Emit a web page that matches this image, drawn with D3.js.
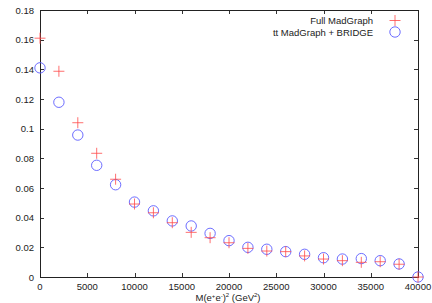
<!DOCTYPE html>
<html>
<head>
<meta charset="utf-8">
<script src="https://cdn.jsdelivr.net/npm/d3@7"></script>
<style>
  body { margin: 0; background: #fff; }
  svg text { font-family: "Liberation Sans", Arial, sans-serif; font-size: 9.5px; fill: #222; }
</style>
</head>
<body>
<svg id="chart" width="432" height="303"></svg>
<script>
const width = 432;
const height = 303;

// mass squared bins (GeV^2)
const massSq = [0, 2000, 4000, 6000, 8000, 10000, 12000, 14000, 16000, 18000, 20000,
  22000, 24000, 26000, 28000, 30000, 32000, 34000, 36000, 38000, 40000];
const fullMadGraph = [0.161, 0.1387, 0.104, 0.0834, 0.0659, 0.0492, 0.0433, 0.0366, 0.0301, 0.0265, 0.0231,
  0.0193, 0.0175, 0.0171, 0.0142, 0.0121, 0.011, 0.0099, 0.0103, 0.0086, 0];
const bridge = [0.141, 0.1178, 0.0957, 0.0753, 0.0622, 0.0505, 0.0446, 0.0378, 0.0344, 0.0294, 0.0245,
  0.020, 0.0187, 0.0171, 0.0153, 0.013, 0.0121, 0.0124, 0.011, 0.0088, 0];

const xTicks = [0, 5000, 10000, 15000, 20000, 25000, 30000, 35000, 40000];
const yTicks = [0, 0.02, 0.04, 0.06, 0.08, 0.1, 0.12, 0.14, 0.16, 0.18];
const yTickLabels = ["0", "0.02", "0.04", "0.06", "0.08", "0.1", "0.12", "0.14", "0.16", "0.18"];

const margin = { left: 40, right: 14, top: 10, bottom: 26 };

const svg = d3.select("#chart");

const x = d3.scaleLinear().domain([0, 40000]).range([margin.left, width - margin.right]);
const y = d3.scaleLinear().domain([0, 0.18]).range([height - margin.bottom, margin.top]);

const tickLen = 4;

// ticks on all four sides, pointing inward
const axes = svg.append("g").attr("stroke", "#333").attr("stroke-width", 1);
xTicks.forEach(t => {
  const px = Math.round(x(t)) + 0.5;
  axes.append("line").attr("x1", px).attr("x2", px)
    .attr("y1", y(0)).attr("y2", y(0) - tickLen);
  axes.append("line").attr("x1", px).attr("x2", px)
    .attr("y1", y(0.18)).attr("y2", y(0.18) + tickLen);
});
yTicks.forEach(t => {
  const py = Math.round(y(t)) + 0.5;
  axes.append("line").attr("x1", x(0)).attr("x2", x(0) + tickLen)
    .attr("y1", py).attr("y2", py);
  axes.append("line").attr("x1", x(40000)).attr("x2", x(40000) - tickLen)
    .attr("y1", py).attr("y2", py);
});

svg.append("rect")
  .attr("x", Math.round(x(0)) + 0.5)
  .attr("y", Math.round(y(0.18)) + 0.5)
  .attr("width", Math.round(x(40000)) - Math.round(x(0)))
  .attr("height", Math.round(y(0)) - Math.round(y(0.18)))
  .attr("fill", "none")
  .attr("stroke", "#222")
  .attr("stroke-width", 1);

// tick labels
svg.append("g").selectAll("text")
  .data(xTicks)
  .enter().append("text")
  .attr("x", d => x(d))
  .attr("y", y(0) + 12.5)
  .attr("text-anchor", "middle")
  .text(d => d);

svg.append("g").selectAll("text")
  .data(yTicks)
  .enter().append("text")
  .attr("x", x(0) - 6)
  .attr("y", d => y(d) + 3.5)
  .attr("text-anchor", "end")
  .text((d, i) => yTickLabels[i]);

// axis title
const title = svg.append("text")
  .attr("x", x(20000) - 1)
  .attr("y", height - 2.5)
  .attr("text-anchor", "middle")
  .attr("font-size", "9px");
title.append("tspan").text("M(e");
title.append("tspan").attr("dy", -3).attr("font-size", "6px").text("+");
title.append("tspan").attr("dy", 3).text("e");
title.append("tspan").attr("dy", -3).attr("font-size", "6px").text("-");
title.append("tspan").attr("dy", 3).text(")");
title.append("tspan").attr("dy", -3.5).attr("font-size", "6px").text("2");
title.append("tspan").attr("dy", 3.5).text(" (GeV");
title.append("tspan").attr("dy", -3.5).attr("font-size", "6px").text("2");
title.append("tspan").attr("dy", 3.5).text(")");

const red = "#ff4a4a";
const blue = "#5c5cff";
const cs = 5.5;

// blue circles
svg.append("g").selectAll("circle")
  .data(massSq)
  .enter().append("circle")
  .attr("cx", d => x(d))
  .attr("cy", (d, i) => y(bridge[i]))
  .attr("r", 5.2)
  .attr("fill", "none")
  .attr("stroke", blue)
  .attr("stroke-width", 0.9);

// red crosses
svg.append("g").selectAll("path")
  .data(massSq)
  .enter().append("path")
  .attr("d", (d, i) => {
    const cx = x(d), cy = y(fullMadGraph[i]);
    return `M${cx - cs},${cy}H${cx + cs}M${cx},${cy - cs}V${cy + cs}`;
  })
  .attr("stroke", red)
  .attr("stroke-width", 0.8)
  .attr("fill", "none");

// legend
const legend = svg.append("g");
legend.append("text").attr("x", 373).attr("y", 24).attr("text-anchor", "end").text("Full MadGraph");
legend.append("text").attr("x", 373).attr("y", 35.5).attr("text-anchor", "end").text("tt MadGraph + BRIDGE");
legend.append("path")
  .attr("d", `M${395 - cs},20.5H${395 + cs}M395,${20.5 - cs}V${20.5 + cs}`)
  .attr("stroke", red).attr("stroke-width", 0.8);
legend.append("circle").attr("cx", 395).attr("cy", 32).attr("r", 5.2)
  .attr("fill", "none").attr("stroke", blue).attr("stroke-width", 0.9);
</script>
</body>
</html>
